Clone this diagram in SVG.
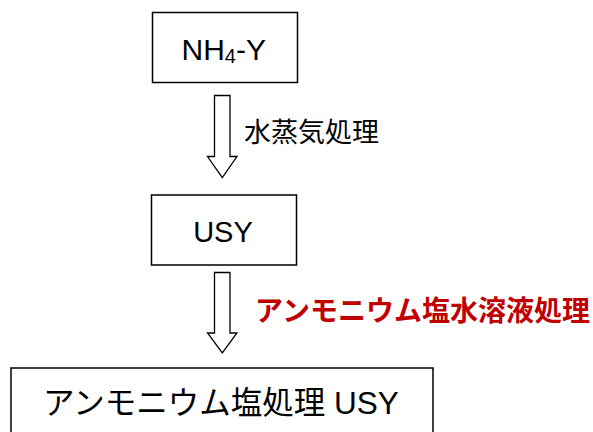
<svg xmlns="http://www.w3.org/2000/svg" width="593" height="432" viewBox="0 0 593 432">
<style>
.box{fill:#fff;stroke:#000;stroke-width:1.5}
.arr{fill:#fff;stroke:#000;stroke-width:1.3;stroke-linejoin:miter}
.t{font-family:"Liberation Sans","Noto Sans CJK JP",sans-serif;fill:#000}
.red{font-family:"Noto Sans CJK JP",sans-serif;fill:#c00000;font-weight:bold}
</style>
<rect width="593" height="432" fill="#fff"/>
<g id="connectors">
<polygon class="arr" points="214.5,95.5 230,95.5 230,156.5 237,156.5 222.3,177.5 207.5,156.5 214.5,156.5"/>
<text class="t" x="244" y="142" font-size="27">水蒸気処理</text>
<polygon class="arr" points="214.5,272.5 230,272.5 230,333 237,333 222.3,353 207.5,333 214.5,333"/>
<text class="red" x="255" y="321" font-size="28">アンモニウム塩水溶液処理</text>
</g>
<g id="n1">
<rect class="box" x="152.5" y="12.5" width="145" height="70"/>
<text class="t" x="181.5" y="59.5" font-size="30">NH<tspan font-size="20" dy="3">4</tspan><tspan dy="-3">-Y</tspan></text>
</g>
<g id="n2">
<rect class="box" x="151.5" y="195" width="145" height="70"/>
<text class="t" x="223" y="241.5" font-size="29" text-anchor="middle">USY</text>
</g>
<g id="n3">
<rect class="box" x="11" y="368" width="422" height="80"/>
<text class="t" x="221" y="414" font-size="31.5" text-anchor="middle">アンモニウム塩処理 USY</text>
</g>
</svg>
